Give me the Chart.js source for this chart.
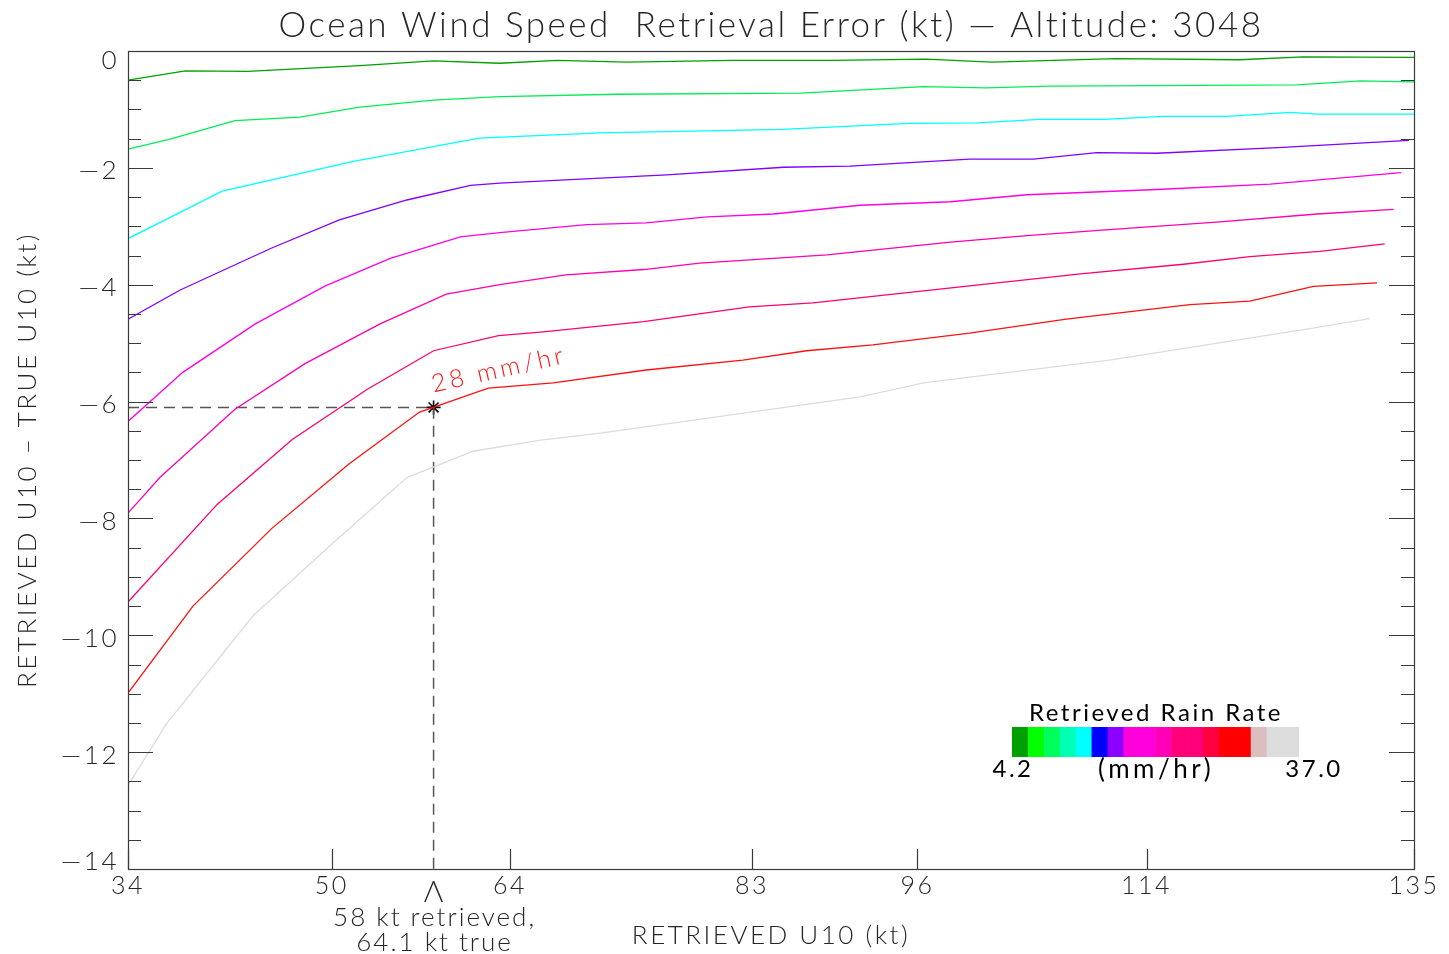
<!DOCTYPE html>
<html>
<head>
<meta charset="utf-8">
<script src="https://cdn.jsdelivr.net/npm/chart.js@4.4.1/dist/chart.umd.min.js"></script>
<style>
  html, body { margin: 0; padding: 0; background: #fff; }
  #wrap { width: 1449px; height: 954px; }
  canvas { display: block; }
</style>
</head>
<body>
<div id="wrap"><canvas id="chart" width="1449" height="954"></canvas></div>
<script>
// ---------------- values ----------------
const xTickValues = [34, 50, 64, 83, 96, 114, 135];
const yTickValues = [0, -2, -4, -6, -8, -10, -12, -14];
const yMinorStep = 0.5;

// retrieval-error curves, lightest rain (top) to heaviest rain (bottom)
const curve1X = [34, 38.5, 43.4, 52.2, 58.0, 63.2, 67.7, 73.2, 81.5, 89.4, 96.7, 101.8, 111.6, 121.3, 126.3, 135];
const curve1Y = [-0.50, -0.34, -0.35, -0.25, -0.17, -0.21, -0.16, -0.19, -0.16, -0.16, -0.14, -0.19, -0.13, -0.15, -0.10, -0.11];

const curve2X = [34, 37.3, 42.4, 47.5, 52.2, 58.0, 63.2, 72.4, 86.8, 96.5, 101.4, 106.4, 125.8, 130.8, 135];
const curve2Y = [-1.68, -1.51, -1.19, -1.13, -0.96, -0.84, -0.78, -0.74, -0.72, -0.61, -0.63, -0.60, -0.58, -0.51, -0.53];

const curve3X = [34, 41.4, 51.7, 61.6, 71.1, 85.4, 95.4, 100.7, 105.6, 110.6, 115.3, 120.3, 125.3, 127.4, 135];
const curve3Y = [-3.21, -2.40, -1.89, -1.49, -1.40, -1.34, -1.24, -1.23, -1.17, -1.17, -1.12, -1.12, -1.05, -1.08, -1.08];

const curve4X = [34, 38.1, 45.2, 50.6, 55.9, 60.9, 63.2, 76.3, 85.5, 90.7, 100.1, 105.1, 110.1, 114.8, 124.7, 134.6];
const curve4Y = [-4.59, -4.09, -3.38, -2.89, -2.55, -2.30, -2.26, -2.12, -1.99, -1.97, -1.85, -1.85, -1.74, -1.75, -1.65, -1.53];

const curve5X = [34, 38.3, 44.0, 49.5, 54.6, 60.1, 63.2, 70.0, 74.7, 79.5, 84.7, 91.5, 98.6, 104.6, 114.8, 123.7, 134.0];
const curve5Y = [-6.34, -5.50, -4.67, -4.02, -3.55, -3.18, -3.11, -2.97, -2.94, -2.84, -2.79, -2.64, -2.58, -2.46, -2.37, -2.28, -2.08];

const curve6X = [34, 36.5, 42.4, 47.9, 53.8, 59.0, 63.2, 68.4, 74.5, 78.9, 88.9, 98.6, 104.6, 111.6, 119.5, 127.4, 133.4];
const curve6Y = [-7.91, -7.30, -6.13, -5.35, -4.67, -4.16, -4.00, -3.83, -3.74, -3.63, -3.49, -3.27, -3.16, -3.05, -2.93, -2.79, -2.71];

const curve7X = [34, 41.0, 46.9, 52.8, 58.0, 63.1, 66.4, 74.5, 82.8, 87.8, 100.1, 109.0, 116.9, 122.1, 127.6, 132.7];
const curve7Y = [-9.43, -7.76, -6.65, -5.79, -5.13, -4.87, -4.81, -4.63, -4.38, -4.31, -4.02, -3.81, -3.65, -3.52, -3.43, -3.30];

const curve8X = [34, 39.1, 45.3, 51.4, 56.9, 62.3, 67.4, 74.7, 82.3, 87.3, 92.5, 100.1, 107.7, 117.4, 122.1, 127.1, 132.1];
const curve8Y = [-10.99, -9.50, -8.17, -7.06, -6.18, -5.77, -5.68, -5.46, -5.29, -5.13, -5.03, -4.83, -4.59, -4.34, -4.28, -4.03, -3.97];

const curve9X = [34, 37.0, 43.8, 50.1, 55.9, 61.1, 66.4, 71.1, 91.5, 96.5, 100.1, 111.1, 126.8, 131.5];
const curve9Y = [-12.57, -11.52, -9.67, -8.42, -7.30, -6.85, -6.66, -6.54, -5.92, -5.68, -5.58, -5.29, -4.75, -4.58];

const curveColors = ['#00a000', '#00ee55', '#00ffff', '#8000ff', '#ff00e6', '#ff00b0', '#ff0070', '#ff1010', '#dcdcdc'];

// highlighted case on the 28 mm/hr curve
const rainLabel = '28 mm/hr';
const markRetrieved = 58;
const markTrue = 64.1;

// rain-rate colour scale
const scaleColors = ['#00a000', '#00ff00', '#00ff5a', '#00ffb4', '#00ffff', '#0000ff', '#8c00ff',
  '#ff00dc', '#ff00dc', '#ff00b8', '#ff0078', '#ff0078', '#ff0040', '#ff0000', '#ff0000',
  '#dcbebe', '#dcdcdc', '#dcdcdc'];
const scaleMin = '4.2';
const scaleMax = '37.0';

// ---------------- chart ----------------
const FONT = 'Lato, "DejaVu Sans", sans-serif';
const INK = '#262626';
const MINUS = '\u2014';

const curveXs = [curve1X, curve2X, curve3X, curve4X, curve5X, curve6X, curve7X, curve8X, curve9X];
const curveYs = [curve1Y, curve2Y, curve3Y, curve4Y, curve5Y, curve6Y, curve7Y, curve8Y, curve9Y];

const markError = +(markRetrieved - markTrue).toFixed(2);

const datasets = curveXs.map((xs, i) => ({
  data: xs.map((v, j) => ({ x: v, y: curveYs[i][j] })),
  borderColor: curveColors[i],
  borderWidth: 1.3,
  showLine: true,
  pointRadius: 0,
  tension: 0
}));

// dashed guide from the y axis to the marked point and down to the x axis
datasets.push({
  data: [{ x: xTickValues[0], y: markError }, { x: markRetrieved, y: markError }, { x: markRetrieved, y: yTickValues[yTickValues.length - 1] }],
  borderColor: '#555',
  borderWidth: 1.5,
  borderDash: [11, 7],
  showLine: true,
  pointRadius: 0
});
datasets.push({
  data: [{ x: markRetrieved, y: markError }],
  showLine: false,
  pointStyle: 'star',
  pointRadius: 7,
  borderColor: '#000',
  pointBorderWidth: 1.6,
  borderWidth: 1.6
});

// wide, airy lettering for all axis and title text
const spacing = {
  id: 'spacing',
  beforeDraw(chart) { chart.ctx.letterSpacing = '2.5px'; }
};

// keep the end labels of the y axis inside the frame
const yEndLabels = {
  id: 'yEndLabels',
  afterUpdate(chart) {
    const items = chart.scales.y.getLabelItems();
    items.forEach(it => {
      if (it.label === String(yTickValues[0])) it.options.translation[1] += 7;
      if (it.label === MINUS + Math.abs(yTickValues[yTickValues.length - 1])) it.options.translation[1] -= 10;
    });
  }
};

const frameAndTicks = {
  id: 'frameAndTicks',
  afterDatasetsDraw(chart) {
    const { ctx, chartArea: a, scales: { x, y } } = chart;
    ctx.save();
    ctx.strokeStyle = '#3a3a3a';
    ctx.lineWidth = 1.2;
    ctx.strokeRect(a.left + 0.5, a.top + 0.5, a.right - a.left, a.bottom - a.top);
    ctx.beginPath();
    const lo = Math.min(...yTickValues), hi = Math.max(...yTickValues);
    for (let v = lo; v <= hi + 1e-9; v += yMinorStep) {
      const py = Math.round(y.getPixelForValue(v)) + 0.5;
      const len = Math.abs(v % 2) < 1e-9 ? 25 : 13;
      ctx.moveTo(a.left, py); ctx.lineTo(a.left + len, py);
      ctx.moveTo(a.right, py); ctx.lineTo(a.right - len, py);
    }
    xTickValues.forEach(v => {
      const px = Math.round(x.getPixelForValue(v)) + 0.5;
      ctx.moveTo(px, a.bottom); ctx.lineTo(px, a.bottom - 20);
    });
    ctx.stroke();
    ctx.restore();
  }
};

const notes = {
  id: 'notes',
  afterDraw(chart) {
    const { ctx, chartArea: a, scales: { x, y } } = chart;
    const px = x.getPixelForValue(markRetrieved);
    const py = y.getPixelForValue(markError);
    ctx.save();
    ctx.fillStyle = INK;
    ctx.textAlign = 'center';
    ctx.textBaseline = 'middle';
    ctx.letterSpacing = '0px';
    ctx.font = '300 30px ' + FONT;
    ctx.fillText('\u039B', px, a.bottom + 23);
    ctx.letterSpacing = '2px';
    ctx.font = '300 26px ' + FONT;
    ctx.fillText(markRetrieved + ' kt retrieved,', px + 1, 918);
    ctx.fillText(markTrue + ' kt true', px + 1, 943);

    // curve label
    ctx.save();
    ctx.translate(px, py - 15);
    ctx.rotate(-12.5 * Math.PI / 180);
    ctx.fillStyle = '#ff1a1a';
    ctx.textAlign = 'left';
    ctx.textBaseline = 'alphabetic';
    ctx.letterSpacing = '3.5px';
    ctx.font = '300 25px ' + FONT;
    ctx.fillText(rainLabel, 0, 0);
    ctx.restore();

    // rain-rate colour bar
    const bx = 1012, by = 727, bw = 286.5, bh = 30;
    const cw = bw / scaleColors.length;
    scaleColors.forEach((c, i) => {
      ctx.fillStyle = c;
      ctx.fillRect(bx + i * cw, by, cw + 0.6, bh);
    });
    ctx.fillStyle = '#000';
    ctx.letterSpacing = '2.5px';
    ctx.font = '400 24px ' + FONT;
    ctx.fillText('Retrieved Rain Rate', 1156, 713);
    ctx.fillText(scaleMin, 1013, 769);
    ctx.fillText(scaleMax, 1314, 769);
    ctx.letterSpacing = '3.5px';
    ctx.font = '400 26px ' + FONT;
    ctx.fillText('(mm/hr)', 1156, 770);
    ctx.restore();
  }
};

new Chart(document.getElementById('chart'), {
  type: 'scatter',
  data: { datasets },
  options: {
    responsive: false,
    devicePixelRatio: 1,
    animation: false,
    events: [],
    layout: { padding: { left: 0, right: 35, top: 0, bottom: 0 } },
    plugins: {
      legend: { display: false },
      tooltip: { enabled: false },
      title: {
        display: true,
        fullSize: false,
        text: 'Ocean Wind Speed  Retrieval Error (kt) \u2014 Altitude: 3048',
        color: INK,
        font: { family: FONT, size: 35, weight: '300' },
        padding: { top: 5, bottom: 4 }
      }
    },
    scales: {
      x: {
        type: 'linear',
        min: 34,
        max: 135,
        afterBuildTicks: s => { s.ticks = xTickValues.map(v => ({ value: v })); },
        afterFit: s => { s.height = 85; },
        grid: { display: false, drawTicks: false },
        border: { display: false },
        ticks: {
          autoSkip: false, maxRotation: 0, padding: 2,
          color: INK, font: { family: FONT, size: 25, weight: '300' },
          callback: v => String(v)
        },
        title: {
          display: true, text: 'RETRIEVED U10 (kt)', color: INK,
          font: { family: FONT, size: 26, weight: '300' },
          padding: { top: 0, bottom: 3 }
        }
      },
      y: {
        type: 'linear',
        min: -14,
        max: 0,
        afterBuildTicks: s => { s.ticks = yTickValues.map(v => ({ value: v })); },
        afterFit: s => { s.width = 128; },
        grid: { display: false, drawTicks: false },
        border: { display: false },
        ticks: {
          padding: 9, labelOffset: 3,
          color: INK, font: { family: FONT, size: 26, weight: '300' },
          callback: v => (v < 0 ? MINUS + Math.abs(v) : String(v))
        },
        title: {
          display: true, text: 'RETRIEVED U10 \u2013 TRUE U10 (kt)', color: INK,
          font: { family: FONT, size: 26, weight: '300' },
          padding: { top: 12, bottom: 0 }
        }
      }
    }
  },
  plugins: [spacing, yEndLabels, frameAndTicks, notes]
});
</script>
</body>
</html>
